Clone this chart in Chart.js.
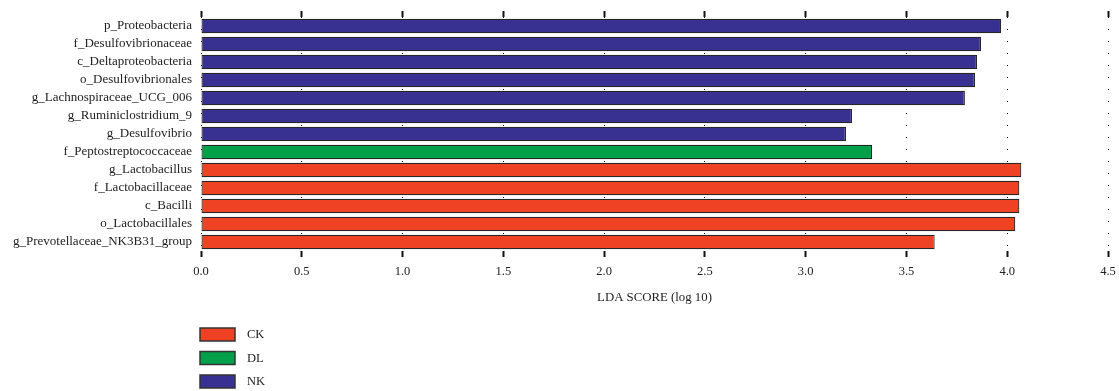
<!DOCTYPE html>
<html>
<head>
<meta charset="utf-8">
<script src="https://cdn.jsdelivr.net/npm/chart.js@4.4.0/dist/chart.umd.min.js"></script>
<style>
  body { margin: 0; background: #fff; }
  #wrap { width: 1119px; height: 391px; position: relative; }
</style>
</head>
<body>
<div id="wrap"><canvas id="ldaChart"></canvas></div>
<script>
const taxa = [
  'p_Proteobacteria',
  'f_Desulfovibrionaceae',
  'c_Deltaproteobacteria',
  'o_Desulfovibrionales',
  'g_Lachnospiraceae_UCG_006',
  'g_Ruminiclostridium_9',
  'g_Desulfovibrio',
  'f_Peptostreptococcaceae',
  'g_Lactobacillus',
  'f_Lactobacillaceae',
  'c_Bacilli',
  'o_Lactobacillales',
  'g_Prevotellaceae_NK3B31_group'
];
const ldaScores = [3.97, 3.87, 3.85, 3.84, 3.79, 3.23, 3.20, 3.33, 4.07, 4.06, 4.06, 4.04, 3.64];
const taxaGroup = ['NK', 'NK', 'NK', 'NK', 'NK', 'NK', 'NK', 'DL', 'CK', 'CK', 'CK', 'CK', 'CK'];
const groupNames = ['CK', 'DL', 'NK'];
const groupColors = { CK: '#ef4123', DL: '#00a04b', NK: '#393191' };

const serif = "'Liberation Serif', 'DejaVu Serif', serif";

// legend under the axis, stacked vertically and left aligned with the bars
const groupLegend = {
  id: 'groupLegend',
  afterDraw(chart) {
    const ctx = chart.ctx;
    const left = chart.chartArea.left - 1;
    ctx.save();
    groupNames.forEach((g, i) => {
      const y = 328 + i * 23.5;
      ctx.fillStyle = groupColors[g];
      ctx.fillRect(left, y, 35, 13);
      ctx.strokeStyle = '#333';
      ctx.lineWidth = 1.5;
      ctx.strokeRect(left, y, 35, 13);
      ctx.fillStyle = '#222';
      ctx.font = '12.5px ' + serif;
      ctx.textBaseline = 'middle';
      ctx.fillText(g, left + 47, y + 7);
    });
    ctx.restore();
  }
};

const ctx = document.getElementById('ldaChart').getContext('2d');
const ldaChart = new Chart(ctx, {
  type: 'bar',
  data: {
    labels: taxa,
    datasets: [{
      data: ldaScores,
      backgroundColor: taxaGroup.map(g => groupColors[g]),
      borderColor: '#262626',
      borderWidth: 1.2,
      borderSkipped: false,
      categoryPercentage: 0.9,
      barPercentage: 0.9
    }]
  },
  options: {
    indexAxis: 'y',
    responsive: true,
    maintainAspectRatio: false,
    animation: false,
    layout: { padding: { left: 0, right: 11, top: 0, bottom: 86 } },
    plugins: {
      legend: { display: false },
      tooltip: { enabled: false }
    },
    scales: {
      x: {
        position: 'bottom',
        min: 0,
        max: 4.5,
        z: 1,
        border: { display: false, dash: [1, 11] },
        grid: {
          color: '#000',
          lineWidth: 1,
          tickBorderDash: [],
          tickColor: '#111',
          tickWidth: 2,
          tickLength: 6
        },
        ticks: {
          stepSize: 0.5,
          padding: 7,
          color: '#222',
          font: { family: serif, size: 12.5 },
          callback: v => v.toFixed(1)
        },
        title: {
          display: true,
          text: 'LDA SCORE (log 10)',
          color: '#222',
          font: { family: serif, size: 12.8 },
          padding: { top: 1, bottom: 0 }
        },
        afterFit: s => { s.height = 54; s.paddingRight = 0; s.paddingLeft = 0; }
      },
      x2: {
        position: 'top',
        min: 0,
        max: 4.5,
        border: { display: false },
        grid: {
          drawOnChartArea: false,
          tickColor: '#111',
          tickWidth: 2,
          tickLength: 6
        },
        ticks: { stepSize: 0.5, display: false },
        afterFit: s => { s.height = 17; s.paddingRight = 0; s.paddingLeft = 0; }
      },
      y: {
        border: { display: false },
        grid: { display: false, drawTicks: false },
        ticks: {
          autoSkip: false,
          padding: 9,
          color: '#222',
          font: { family: serif, size: 13 }
        },
        afterFit: s => { s.width = 201; }
      }
    }
  },
  plugins: [groupLegend]
});
</script>
</body>
</html>
